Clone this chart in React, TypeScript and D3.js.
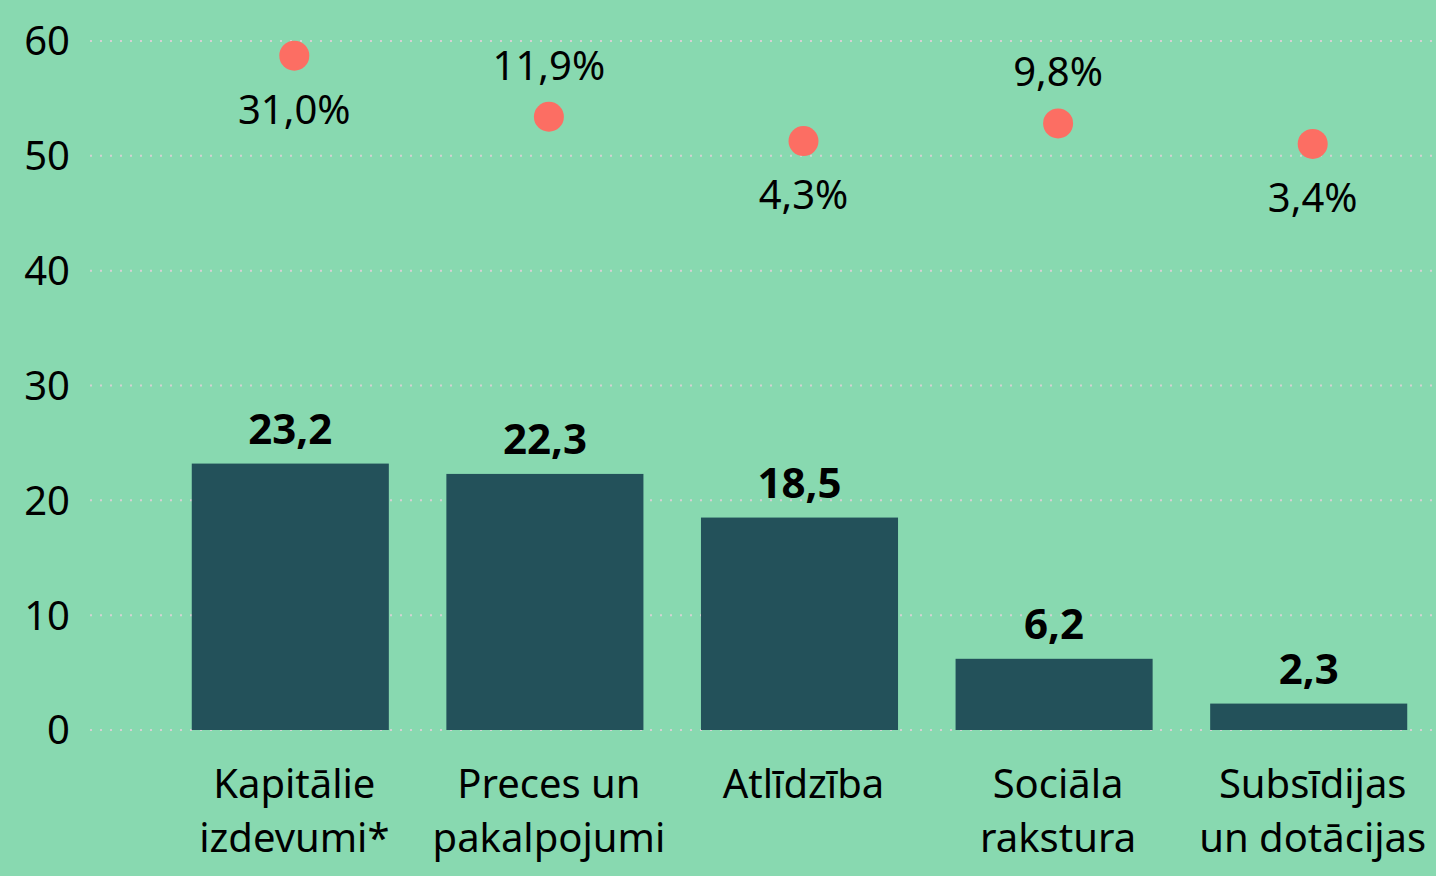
import React from "react";
import * as d3 from "d3";

const categories: string[][] = [
  ["Kapitālie", "izdevumi*"],
  ["Preces un", "pakalpojumi"],
  ["Atlīdzība"],
  ["Sociāla", "rakstura"],
  ["Subsīdijas", "un dotācijas"],
];
const barValues = [23.2, 22.3, 18.5, 6.2, 2.3];
const barLabels = ["23,2", "22,3", "18,5", "6,2", "2,3"];
const pctValues = [31.0, 11.9, 4.3, 9.8, 3.4];
const pctLabels = ["31,0%", "11,9%", "4,3%", "9,8%", "3,4%"];
const pctLabelAbove = [false, true, false, true, false];
const yTicks = [0, 10, 20, 30, 40, 50, 60];

const W = 1436;
const H = 876;
const FONT = "'Noto Sans', 'Open Sans', sans-serif";

export default function App() {
  const keys = categories.map((c) => c.join(" "));
  const x = d3
    .scaleBand<string>()
    .domain(keys)
    .range([163, 1436])
    .paddingInner(0.226)
    .paddingOuter(0.113);
  const y = d3.scaleLinear().domain([0, 60]).range([730, 41]);
  const y2 = d3.scaleLinear().domain([-180, 35.6]).range([730, 41]);
  const bw = x.bandwidth();

  return (
    <div style={{ position: "fixed", left: 0, top: 0, width: W, height: H }}>
      <svg width={W} height={H} style={{ display: "block" }}>
        <rect x={0} y={0} width={W} height={H} fill="#88D9B0" />
        {yTicks.map((t) => (
          <g key={t}>
            <line
              x1={90}
              x2={W}
              y1={y(t)}
              y2={y(t)}
              stroke="#d2d2d2"
              strokeWidth={2}
              strokeDasharray="2,8"
            />
            <text
              x={70}
              y={y(t)}
              dy="0.36em"
              textAnchor="end"
              fontFamily={FONT}
              fontSize={40}
              fill="#000"
            >
              {t}
            </text>
          </g>
        ))}
        {keys.map((k, i) => {
          const x0 = x(k)!;
          const cx = x0 + bw / 2;
          return (
            <g key={k}>
              <rect
                x={x0}
                y={y(barValues[i])}
                width={bw}
                height={y(0) - y(barValues[i])}
                fill="#23515A"
              />
              <text
                x={cx}
                y={y(barValues[i]) - 20}
                textAnchor="middle"
                fontFamily={FONT}
                fontWeight="bold"
                fontSize={42}
                fill="#000"
              >
                {barLabels[i]}
              </text>
              {categories[i].map((line, j) => (
                <text
                  key={j}
                  x={cx + 4}
                  y={798 + j * 54}
                  textAnchor="middle"
                  fontFamily={FONT}
                  fontSize={40}
                  fill="#000"
                >
                  {line}
                </text>
              ))}
              <circle cx={cx + 4} cy={y2(pctValues[i])} r={15} fill="#FC6E63" />
              <text
                x={cx + 4}
                y={
                  pctLabelAbove[i]
                    ? y2(pctValues[i]) - 37
                    : y2(pctValues[i]) + 68
                }
                textAnchor="middle"
                fontFamily={FONT}
                fontSize={40}
                fill="#000"
              >
                {pctLabels[i]}
              </text>
            </g>
          );
        })}
      </svg>
    </div>
  );
}
